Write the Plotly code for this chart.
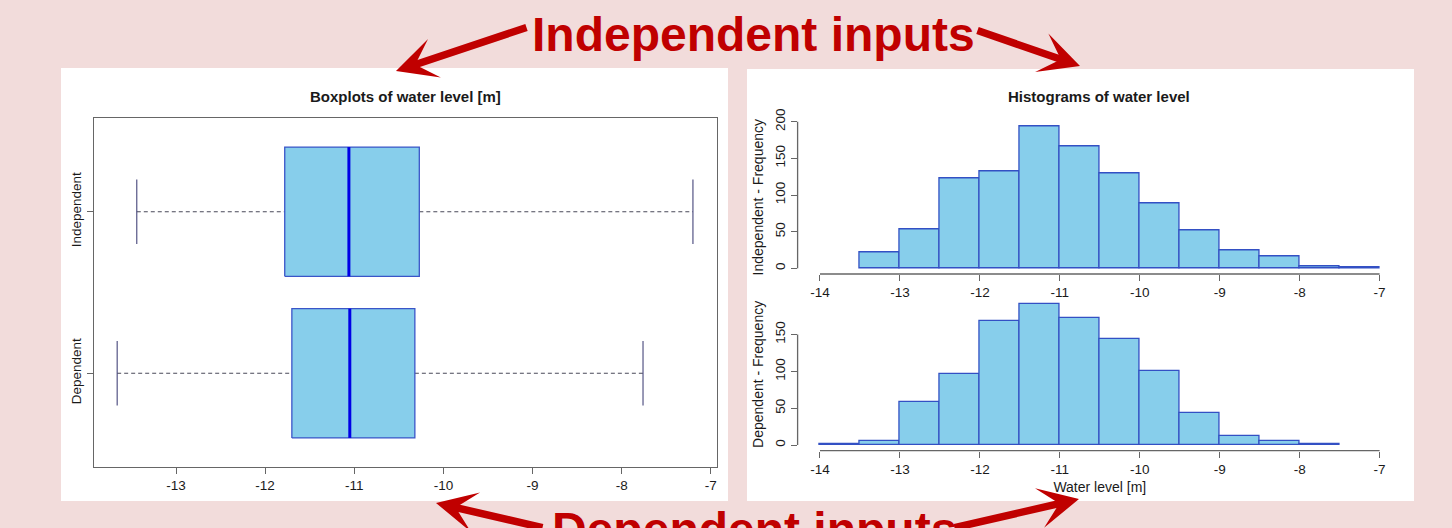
import plotly.graph_objects as go

# ---------------- data ----------------
groups = ["Dependent", "Independent"]
group_pos = [1, 2]
lower_whisker = [-13.66, -13.44]
q1 = [-11.70, -11.78]
median = [-11.05, -11.06]
q3 = [-10.32, -10.27]
upper_whisker = [-7.76, -7.20]

box_xticks = [-13, -12, -11, -10, -9, -8, -7]

bin_width = 0.5
indep_bin_left = [-13.5, -13.0, -12.5, -12.0, -11.5, -11.0, -10.5, -10.0, -9.5, -9.0, -8.5, -8.0, -7.5]
indep_counts = [22, 53, 123, 132, 194, 167, 130, 89, 52, 25, 16, 3, 1]
dep_bin_left = [-14.0, -13.5, -13.0, -12.5, -12.0, -11.5, -11.0, -10.5, -10.0, -9.5, -9.0, -8.5, -8.0]
dep_counts = [1, 5, 58, 97, 168, 192, 172, 144, 101, 43, 12, 5, 1]

hist_xticks = [-14, -13, -12, -11, -10, -9, -8, -7]
indep_yticks = [0, 50, 100, 150, 200]
dep_yticks = [0, 50, 100, 150]

# ---------------- style ----------------
W, H = 1452, 528
PINK = "#f2dcdb"
RED = "#c00000"
SKY = "#87ceeb"
BOXLINE = "#3a55c8"
BARLINE = "#3350c4"
AXC = "#666666"
FONT = "Liberation Sans, Arial, sans-serif"
TXT = "#1a1a1a"


def px_x(p):
    return p / W


def px_y(p):
    return 1 - p / H


def labels(vals):
    return [str(v) for v in vals]


fig = go.Figure()

# ---- boxplots (left) ----
half = 0.4
staple = 0.2
for i, g in enumerate(groups):
    p = group_pos[i]
    fig.add_trace(go.Scatter(
        x=[lower_whisker[i], q1[i], None, q3[i], upper_whisker[i]],
        y=[p, p, None, p, p], mode="lines",
        line=dict(color="#4a4a5a", width=1.1, dash="4px,3px"),
        xaxis="x", yaxis="y", showlegend=False, hoverinfo="skip"))
    fig.add_trace(go.Scatter(
        x=[lower_whisker[i], lower_whisker[i], None, upper_whisker[i], upper_whisker[i]],
        y=[p - staple, p + staple, None, p - staple, p + staple], mode="lines",
        line=dict(color="#45457a", width=1.1),
        xaxis="x", yaxis="y", showlegend=False, hoverinfo="skip"))
    fig.add_trace(go.Scatter(
        x=[q1[i], q3[i], q3[i], q1[i], q1[i]],
        y=[p - half, p - half, p + half, p + half, p - half],
        mode="lines", fill="toself", fillcolor=SKY,
        line=dict(color=BOXLINE, width=1.3),
        xaxis="x", yaxis="y", showlegend=False, hoverinfo="skip"))
    fig.add_trace(go.Scatter(
        x=[median[i], median[i]], y=[p - half, p + half], mode="lines",
        line=dict(color="#0000e6", width=3),
        xaxis="x", yaxis="y", showlegend=False, hoverinfo="skip"))

# ---- histograms (right) ----
fig.add_trace(go.Bar(
    x=[b + bin_width / 2 for b in indep_bin_left], y=indep_counts, width=bin_width,
    marker=dict(color=SKY, line=dict(color=BARLINE, width=1.3)),
    xaxis="x2", yaxis="y2", showlegend=False, hoverinfo="skip"))
fig.add_trace(go.Bar(
    x=[b + bin_width / 2 for b in dep_bin_left], y=dep_counts, width=bin_width,
    marker=dict(color=SKY, line=dict(color=BARLINE, width=1.3)),
    xaxis="x3", yaxis="y3", showlegend=False, hoverinfo="skip"))

tickfont = dict(family=FONT, size=13.5, color=TXT)
common = dict(showgrid=False, zeroline=False, ticks="outside", ticklen=6,
              tickcolor=AXC, tickwidth=1, tickfont=tickfont)

fig.update_layout(
    width=W, height=H, autosize=False,
    margin=dict(l=0, r=0, t=0, b=0, autoexpand=False),
    paper_bgcolor=PINK, plot_bgcolor="white",
    bargap=0,
    xaxis=dict(domain=[px_x(94), px_x(717)], range=[-13.92, -6.93], anchor="y",
               tickvals=box_xticks, ticktext=labels(box_xticks),
               showline=True, mirror=True, linecolor=AXC, linewidth=1.3, **common),
    yaxis=dict(domain=[px_y(467), px_y(118)], range=[0.42, 2.58], anchor="x",
               tickvals=group_pos, ticktext=groups, tickangle=-90,
               showline=True, mirror=True, linecolor=AXC, linewidth=1.3, **common),
    xaxis2=dict(domain=[px_x(797.6), px_x(1402)], range=[-14.28, -6.72], anchor="y2",
                tickvals=hist_xticks, ticktext=labels(hist_xticks), showline=False, **common),
    yaxis2=dict(domain=[px_y(274), px_y(120.4)], range=[-7.76, 201.8], anchor="x2",
                tickvals=indep_yticks, ticktext=labels(indep_yticks), tickangle=-90,
                showline=False,
                title=dict(text="Independent - Frequency", standoff=6,
                           font=dict(family=FONT, size=14, color=TXT)), **common),
    xaxis3=dict(domain=[px_x(797.6), px_x(1402)], range=[-14.28, -6.72], anchor="y3",
                tickvals=hist_xticks, ticktext=labels(hist_xticks), showline=False,
                title=dict(text="Water level [m]", standoff=6,
                           font=dict(family=FONT, size=14, color=TXT)), **common),
    yaxis3=dict(domain=[px_y(450.7), px_y(298)], range=[-7.68, 199.7], anchor="x3",
                tickvals=dep_yticks, ticktext=labels(dep_yticks), tickangle=-90,
                showline=False,
                title=dict(text="Dependent - Frequency", standoff=6,
                           font=dict(family=FONT, size=14, color=TXT)), **common),
)

shapes = [
    dict(type="rect", xref="paper", yref="paper", x0=px_x(61), x1=px_x(728),
         y0=px_y(501), y1=px_y(68), fillcolor="white", line=dict(width=0), layer="below"),
    dict(type="rect", xref="paper", yref="paper", x0=px_x(747), x1=px_x(1414),
         y0=px_y(501), y1=px_y(69), fillcolor="white", line=dict(width=0), layer="below"),
]
for xa, ya, yt in (("x2", "y2", indep_yticks), ("x3", "y3", dep_yticks)):
    shapes.append(dict(type="line", xref=xa, yref=ya + " domain",
                       x0=hist_xticks[0], x1=hist_xticks[-1], y0=0, y1=0,
                       line=dict(color=AXC, width=1.3)))
    shapes.append(dict(type="line", xref=xa + " domain", yref=ya,
                       x0=0, x1=0, y0=yt[0], y1=yt[-1],
                       line=dict(color=AXC, width=1.3)))
fig.update_layout(shapes=shapes)

annotations = [
    dict(text="<b>Boxplots of water level [m]</b>", x=px_x(405.5), y=px_y(96),
         xref="paper", yref="paper", showarrow=False, xanchor="center", yanchor="middle",
         font=dict(family=FONT, size=15, color=TXT)),
    dict(text="<b>Histograms of water level</b>", x=px_x(1099), y=px_y(96),
         xref="paper", yref="paper", showarrow=False, xanchor="center", yanchor="middle",
         font=dict(family=FONT, size=15, color=TXT)),
    dict(text="<b>Independent inputs</b>", x=px_x(753), y=px_y(34),
         xref="paper", yref="paper", showarrow=False, xanchor="center", yanchor="middle",
         font=dict(family=FONT, size=48, color=RED)),
    dict(text="<b>Dependent inputs</b>", x=px_x(754), y=px_y(529),
         xref="paper", yref="paper", showarrow=False, xanchor="center", yanchor="middle",
         font=dict(family=FONT, size=48, color=RED)),
]
arrows = [
    ((396, 71), (528, 27)),
    ((1080, 66), (976, 30)),
    ((436, 503), (544, 532)),
    ((1079, 499), (953, 532)),
]
for (tx, ty), (sx, sy) in arrows:
    annotations.append(dict(
        text="", x=px_x(tx), y=px_y(ty), xref="paper", yref="paper",
        showarrow=True, ax=sx - tx, ay=sy - ty, axref="pixel", ayref="pixel",
        arrowhead=3, arrowsize=0.9, arrowwidth=7.5, arrowcolor=RED, standoff=0))
fig.update_layout(annotations=annotations)

fig.write_html("out.html", config={"displayModeBar": False},
               post_script="document.body.style.margin='0';document.body.style.background='%s';" % PINK)
